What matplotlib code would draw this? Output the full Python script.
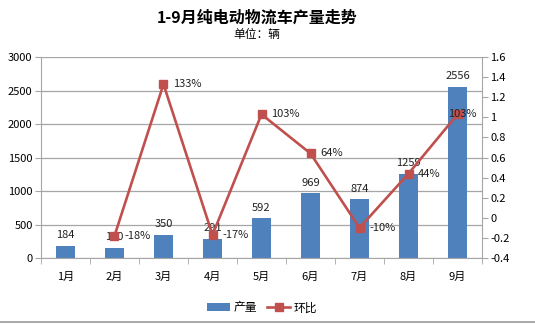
import matplotlib.pyplot as plt
import numpy as np

plt.rcParams['font.family'] = ['Noto Sans CJK SC', 'DejaVu Sans']

# Monthly output and month-over-month change
months = ['1月', '2月', '3月', '4月', '5月', '6月', '7月', '8月', '9月']
output = [184, 150, 350, 291, 592, 969, 874, 1259, 2556]
mom = [None, -0.18, 1.33, -0.17, 1.03, 0.64, -0.10, 0.44, 1.03]
mom_labels = ['', '-18%', '133%', '-17%', '103%', '64%', '-10%', '44%', '103%']

bar_color = '#4F81BD'
line_color = '#C0504D'
grid_color = '#A6A6A6'

fig = plt.figure(figsize=(5.35, 3.24), dpi=100)
ax = fig.add_axes([0.0766, 0.2037, 0.8244, 0.6203])
x = np.arange(len(months))

# Bars on the left axis
ax.bar(x, output, width=0.39, color=bar_color, zorder=2, label='产量')
for xi, v in zip(x, output):
    ax.annotate(str(v), (xi, v), xytext=(0, 4), textcoords='offset points',
                ha='center', va='bottom', fontsize=8, color='#222222', zorder=5)

ax.set_xlim(-0.5, len(months) - 0.5)
ax.set_ylim(0, 3000)
ax.set_yticks(range(0, 3001, 500))
ax.yaxis.grid(True, color=grid_color, linewidth=0.9, zorder=0)
ax.set_axisbelow(True)
ax.set_xticks(x)
ax.set_xticklabels(months, fontsize=8)
ax.set_xticks(np.arange(-0.5, len(months)), minor=True)
ax.tick_params(axis='x', which='major', length=0, pad=10)
ax.tick_params(axis='x', which='minor', length=4, color=grid_color)
ax.tick_params(axis='y', labelsize=8, length=4, color=grid_color, pad=2)
for side in ['left', 'bottom']:
    ax.spines[side].set_color(grid_color)
ax.spines['top'].set_visible(False)
ax.spines['right'].set_visible(False)

# Ratio line on the right axis
ax2 = ax.twinx()
xs = x[1:]
ys = mom[1:]
ax2.plot(xs, ys, color=line_color, linewidth=1.9, marker='s', markersize=5.5,
         zorder=3, label='环比')
for xi, v, lab in zip(xs, ys, mom_labels[1:]):
    dx = 7 if xi != 8 else -7
    ax2.annotate(lab, (xi, v), xytext=(dx, 0), textcoords='offset points',
                 ha='left', va='center', fontsize=8, color='#222222')
ax2.set_ylim(-0.4, 1.6)
ax2.set_yticks(np.round(np.arange(-0.4, 1.61, 0.2), 1))
ax2.set_yticklabels(['-0.4', '-0.2', '0', '0.2', '0.4', '0.6', '0.8', '1', '1.2', '1.4', '1.6'])
ax2.tick_params(axis='y', labelsize=8, length=4, color=grid_color, pad=2)
ax2.spines['right'].set_color(grid_color)
for side in ['left', 'top', 'bottom']:
    ax2.spines[side].set_visible(False)

# Titles
fig.text(0.48, 0.945, '1-9月纯电动物流车产量走势', ha='center', va='center',
         fontsize=11.5, fontweight='bold')
fig.text(0.48, 0.895, '单位：辆', ha='center', va='center', fontsize=8.5)

# Legend
h1, l1 = ax.get_legend_handles_labels()
h2, l2 = ax2.get_legend_handles_labels()
fig.legend(h1 + h2, l1 + l2, loc='center', bbox_to_anchor=(0.49, 0.05), ncol=2,
           frameon=False, fontsize=8.5, handlelength=2.0, columnspacing=0.8,
           handletextpad=0.3)

# Bottom border line
fig.add_artist(plt.Line2D([0, 1], [0.006, 0.006], color='#999999', linewidth=1.2))

fig.savefig('out.png', dpi=100)
